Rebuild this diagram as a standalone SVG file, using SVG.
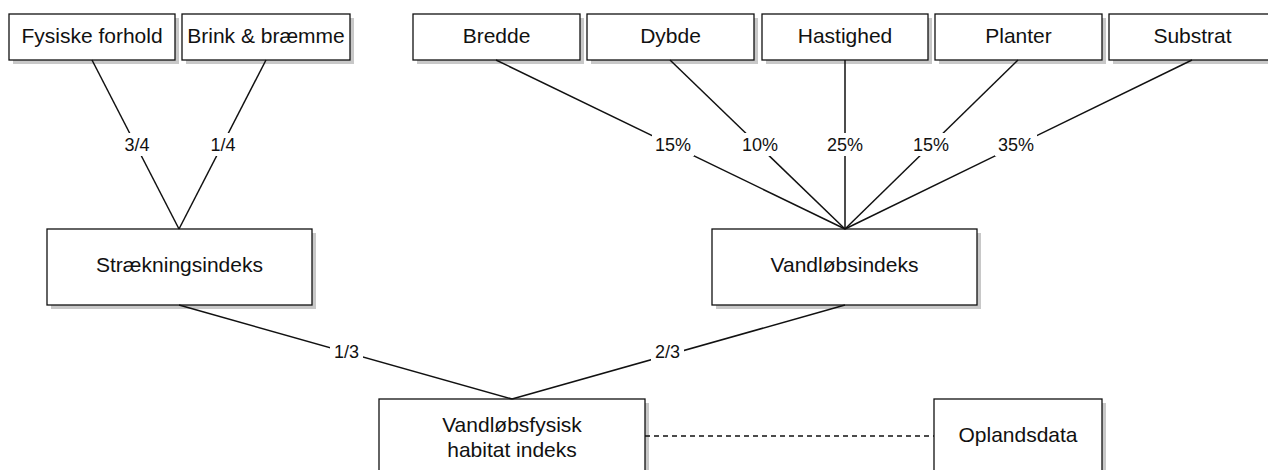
<svg xmlns="http://www.w3.org/2000/svg" width="1268" height="470" viewBox="0 0 1268 470">
  <style>
    .box { fill: #ffffff; stroke: #111111; stroke-width: 1.3; }
    .shadow { fill: #c8c8c8; }
    .node-text { font-family: "Liberation Sans", Arial, sans-serif; font-size: 21px; fill: #111111; text-anchor: middle; }
    .edge { stroke: #111111; stroke-width: 1.5; fill: none; }
    .dashed { stroke: #111111; stroke-width: 1.3; stroke-dasharray: 5 4; fill: none; }
    .label-bg { fill: #ffffff; }
    .label { font-family: "Liberation Sans", Arial, sans-serif; font-size: 18px; fill: #111111; text-anchor: middle; }
  </style>

  <rect width="1268" height="470" fill="#ffffff"/>

  <!-- top row -->
  <g id="node-fysiske-forhold">
    <rect class="shadow" x="13" y="18" width="166" height="46"/>
    <rect class="box" x="9" y="14" width="166" height="46"/>
    <text class="node-text" x="92" y="43">Fysiske forhold</text>
  </g>
  <g id="node-brink-braemme">
    <rect class="shadow" x="186" y="18" width="168" height="46"/>
    <rect class="box" x="182" y="14" width="168" height="46"/>
    <text class="node-text" x="266" y="43">Brink &amp; bræmme</text>
  </g>
  <g id="node-bredde">
    <rect class="shadow" x="417" y="18" width="167" height="46"/>
    <rect class="box" x="413" y="14" width="167" height="46"/>
    <text class="node-text" x="496.5" y="43">Bredde</text>
  </g>
  <g id="node-dybde">
    <rect class="shadow" x="591" y="18" width="167" height="46"/>
    <rect class="box" x="587" y="14" width="167" height="46"/>
    <text class="node-text" x="670.5" y="43">Dybde</text>
  </g>
  <g id="node-hastighed">
    <rect class="shadow" x="766" y="18" width="166" height="46"/>
    <rect class="box" x="762" y="14" width="166" height="46"/>
    <text class="node-text" x="845" y="43">Hastighed</text>
  </g>
  <g id="node-planter">
    <rect class="shadow" x="939" y="18" width="167" height="46"/>
    <rect class="box" x="935" y="14" width="167" height="46"/>
    <text class="node-text" x="1018.5" y="43">Planter</text>
  </g>
  <g id="node-substrat">
    <rect class="shadow" x="1113" y="18" width="167" height="46"/>
    <rect class="box" x="1109" y="14" width="167" height="46"/>
    <text class="node-text" x="1192.5" y="43">Substrat</text>
  </g>

  <!-- middle row -->
  <g id="node-straekningsindeks">
    <rect class="shadow" x="51" y="233" width="265" height="76"/>
    <rect class="box" x="47" y="229" width="265" height="76"/>
    <text class="node-text" x="179.5" y="272">Strækningsindeks</text>
  </g>
  <g id="node-vandloebsindeks">
    <rect class="shadow" x="716" y="233" width="265" height="76"/>
    <rect class="box" x="712" y="229" width="265" height="76"/>
    <text class="node-text" x="844.5" y="272">Vandløbsindeks</text>
  </g>

  <!-- bottom row -->
  <g id="node-habitat-indeks">
    <rect class="shadow" x="383" y="403" width="266" height="80"/>
    <rect class="box" x="379" y="399" width="266" height="80"/>
    <text class="node-text" x="512" y="432">Vandløbsfysisk</text>
    <text class="node-text" x="512" y="457">habitat indeks</text>
  </g>
  <g id="node-oplandsdata">
    <rect class="shadow" x="938" y="403" width="168" height="80"/>
    <rect class="box" x="934" y="399" width="168" height="80"/>
    <text class="node-text" x="1018" y="442">Oplandsdata</text>
  </g>

  <!-- connectors, drawn over the box shadows -->
  <g id="connectors">
    <line class="edge" x1="92" y1="60" x2="179" y2="229"/>
    <line class="edge" x1="266" y1="60" x2="179" y2="229"/>

    <line class="edge" x1="496" y1="60" x2="845" y2="229"/>
    <line class="edge" x1="670" y1="60" x2="845" y2="229"/>
    <line class="edge" x1="845" y1="60" x2="845" y2="229"/>
    <line class="edge" x1="1018" y1="60" x2="845" y2="229"/>
    <line class="edge" x1="1192" y1="60" x2="845" y2="229"/>

    <line class="edge" x1="179" y1="305" x2="512" y2="399"/>
    <line class="edge" x1="845" y1="305" x2="512" y2="399"/>

    <line class="dashed" x1="645" y1="436" x2="934" y2="436"/>

    <!-- weight labels -->
    <rect class="label-bg" x="121" y="133" width="32" height="23"/>
    <text class="label" x="137" y="150.5">3/4</text>
    <rect class="label-bg" x="207" y="133" width="32" height="23"/>
    <text class="label" x="223" y="150.5">1/4</text>

    <rect class="label-bg" x="652" y="133" width="42" height="23"/>
    <text class="label" x="673" y="150.5">15%</text>
    <rect class="label-bg" x="739" y="133" width="42" height="23"/>
    <text class="label" x="760" y="150.5">10%</text>
    <rect class="label-bg" x="824" y="133" width="42" height="23"/>
    <text class="label" x="845" y="150.5">25%</text>
    <rect class="label-bg" x="910" y="133" width="42" height="23"/>
    <text class="label" x="931" y="150.5">15%</text>
    <rect class="label-bg" x="995" y="133" width="42" height="23"/>
    <text class="label" x="1016" y="150.5">35%</text>

    <rect class="label-bg" x="330" y="340" width="33" height="24"/>
    <text class="label" x="346.5" y="358">1/3</text>
    <rect class="label-bg" x="651" y="340" width="33" height="24"/>
    <text class="label" x="667.5" y="358">2/3</text>
  </g>
</svg>
